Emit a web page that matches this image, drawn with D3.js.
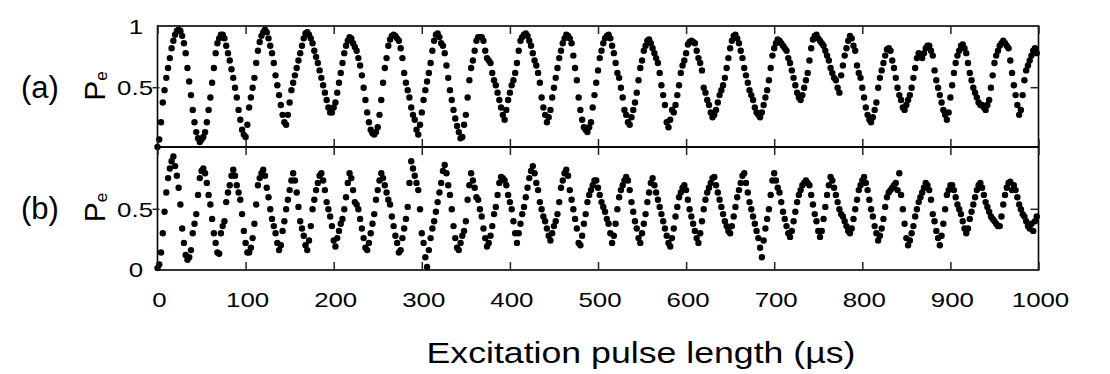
<!DOCTYPE html>
<html>
<head>
<meta charset="utf-8">
<script src="https://cdn.jsdelivr.net/npm/d3@7"></script>
<style>
    body { margin: 0; background: #fff; }
    svg text { font-family: "Liberation Sans", Arial, sans-serif; fill: #000; }
</style>
</head>
<body>
<div id="plot-container"></div>
<script>
// pulse length step between samples (µs)
const stepUs = 2;

// excited-state population, in percent, one value per 2 µs
const peA = [
    2, 8, 22, 38, 48, 58, 66, 74, 82, 88,
    93, 96, 97, 96, 92, 86, 78, 66, 55, 44,
    32, 22, 14, 9, 6, 8, 10, 14, 22, 32,
    42, 54, 66, 78, 86, 90, 93, 93, 90, 84,
    78, 72, 65, 58, 50, 42, 32, 24, 16, 12,
    10, 20, 34, 42, 50, 58, 70, 80, 87, 92,
    95, 97, 95, 90, 84, 78, 70, 60, 52, 44,
    36, 28, 22, 20, 28, 38, 48, 54, 60, 66,
    72, 78, 84, 90, 94, 95, 93, 90, 86, 80,
    75, 70, 64, 58, 52, 46, 40, 34, 30, 30,
    34, 38, 46, 54, 62, 70, 78, 84, 88, 91,
    90, 86, 83, 80, 74, 68, 60, 50, 40, 30,
    22, 16, 13, 12, 14, 18, 28, 40, 54, 66,
    74, 84, 89, 92, 93, 92, 90, 88, 82, 74,
    62, 54, 48, 42, 34, 28, 24, 16, 12, 20,
    30, 40, 48, 55, 62, 70, 80, 88, 93, 94,
    91, 86, 84, 78, 68, 58, 48, 40, 32, 25,
    19, 14, 9, 10, 20, 28, 42, 56, 66, 72,
    80, 88, 91, 91, 91, 88, 80, 74, 72, 70,
    62, 56, 52, 46, 40, 34, 28, 24, 32, 40,
    46, 52, 56, 62, 70, 80, 88, 91, 93, 94,
    92, 88, 84, 78, 72, 68, 62, 54, 42, 34,
    28, 22, 26, 32, 42, 50, 58, 66, 74, 80,
    86, 90, 93, 92, 90, 86, 76, 66, 56, 42,
    32, 24, 18, 16, 14, 18, 22, 34, 44, 54,
    64, 74, 80, 86, 90, 92, 93, 90, 84, 78,
    70, 62, 58, 50, 42, 32, 28, 22, 20, 26,
    32, 38, 46, 56, 66, 72, 80, 84, 88, 89,
    86, 82, 78, 74, 70, 62, 52, 44, 36, 22,
    18, 24, 32, 30, 36, 44, 52, 62, 68, 72,
    78, 85, 87, 88, 87, 86, 80, 74, 70, 64,
    50, 46, 40, 36, 30, 26, 28, 32, 38, 44,
    48, 52, 58, 66, 74, 82, 88, 92, 93, 90,
    86, 80, 74, 66, 60, 54, 48, 44, 40, 34,
    30, 28, 26, 30, 36, 42, 48, 56, 66, 76,
    82, 86, 89, 88, 86, 84, 82, 80, 74, 70,
    64, 58, 52, 46, 42, 40, 44, 50, 56, 62,
    72, 82, 89, 92, 93, 90, 88, 86, 84, 80,
    76, 72, 66, 62, 58, 56, 50, 46, 60, 68,
    76, 82, 88, 92, 90, 84, 80, 68, 62, 58,
    50, 42, 34, 28, 24, 22, 26, 32, 38, 50,
    58, 64, 70, 76, 81, 82, 80, 72, 66, 58,
    50, 44, 40, 34, 32, 36, 40, 44, 50, 58,
    66, 74, 78, 76, 74, 78, 82, 84, 84, 80,
    76, 64, 56, 50, 44, 38, 32, 28, 24, 30,
    42, 52, 62, 70, 76, 80, 84, 85, 82, 78,
    70, 62, 56, 50, 46, 42, 38, 36, 36, 34,
    32, 36, 40, 50, 60, 70, 76, 80, 84, 86,
    88, 86, 84, 82, 72, 62, 52, 44, 36, 28,
    32, 44, 56, 64, 68, 72, 76, 80, 82, 78
];

const peB = [
    1, 4, 14, 30, 48, 64, 76, 84, 90, 94,
    86, 78, 68, 54, 34, 22, 12, 8, 10, 16,
    30, 38, 46, 62, 76, 82, 84, 80, 72, 62,
    54, 42, 30, 22, 14, 13, 30, 36, 40, 56,
    64, 70, 78, 83, 78, 70, 64, 58, 46, 32,
    22, 14, 14, 18, 26, 38, 54, 70, 76, 80,
    83, 78, 68, 60, 50, 42, 36, 30, 22, 16,
    20, 32, 40, 50, 58, 66, 74, 80, 74, 64,
    52, 40, 34, 28, 20, 16, 24, 36, 50, 58,
    66, 72, 78, 80, 74, 66, 56, 50, 44, 36,
    24, 19, 26, 32, 38, 42, 50, 60, 72, 80,
    76, 66, 56, 54, 50, 42, 34, 26, 18, 16,
    22, 30, 38, 46, 58, 66, 74, 80, 76, 70,
    64, 58, 54, 44, 36, 28, 22, 14, 16, 26,
    34, 42, 52, 72, 90, 84, 78, 72, 66, 50,
    30, 22, 10, 2, 16, 26, 34, 40, 48, 56,
    64, 72, 82, 87, 80, 70, 62, 50, 36, 26,
    18, 16, 22, 28, 32, 40, 58, 70, 80, 74,
    68, 60, 58, 50, 44, 34, 26, 19, 22, 28,
    36, 46, 52, 62, 72, 77, 76, 74, 70, 62,
    56, 50, 40, 30, 22, 30, 38, 46, 52, 60,
    68, 76, 82, 86, 80, 72, 66, 56, 50, 44,
    40, 34, 28, 24, 30, 36, 40, 46, 56, 68,
    74, 80, 83, 78, 66, 58, 50, 42, 34, 22,
    20, 28, 38, 46, 56, 62, 66, 70, 74, 74,
    68, 62, 56, 52, 48, 42, 38, 30, 22, 28,
    38, 50, 60, 66, 70, 74, 77, 74, 66, 56,
    48, 40, 34, 26, 22, 30, 38, 46, 56, 64,
    72, 76, 70, 64, 58, 52, 46, 40, 34, 28,
    22, 19, 26, 34, 44, 52, 60, 64, 68, 70,
    66, 58, 50, 44, 38, 32, 26, 22, 30, 40,
    50, 58, 64, 68, 72, 76, 77, 70, 64, 58,
    52, 46, 40, 36, 32, 30, 36, 44, 52, 60,
    66, 72, 78, 80, 72, 64, 56, 50, 44, 38,
    32, 26, 18, 10, 24, 34, 42, 50, 62, 74,
    80, 74, 68, 64, 56, 48, 42, 36, 30, 27,
    32, 40, 48, 56, 62, 66, 70, 72, 74, 72,
    70, 62, 54, 46, 40, 32, 27, 32, 42, 52,
    62, 70, 77, 74, 68, 62, 56, 50, 46, 44,
    40, 36, 32, 30, 34, 42, 50, 58, 66, 70,
    74, 77, 72, 66, 58, 50, 44, 36, 30, 24,
    28, 34, 42, 52, 60, 64, 66, 68, 70, 72,
    66, 80, 62, 50, 38, 26, 20, 24, 30, 36,
    44, 50, 56, 60, 64, 68, 72, 70, 66, 58,
    46, 40, 32, 26, 20, 28, 38, 50, 62, 66,
    70, 70, 66, 60, 54, 50, 46, 40, 34, 30,
    34, 42, 48, 54, 60, 66, 70, 72, 68, 62,
    56, 52, 48, 44, 42, 40, 38, 36, 36, 44,
    54, 62, 68, 72, 73, 66, 70, 66, 60, 54,
    50, 46, 44, 40, 36, 34, 38, 32, 40, 44
];

const xTicks = [0, 100, 200, 300, 400, 500, 600, 700, 800, 900, 1000];
const yTicksA = [0.5, 1];
const yTicksB = [0, 0.5];
const xTitle = "Excitation pulse length (\u00b5s)";

const width = 1110;
const height = 374;
const stretch = 1.23;   // the printed text is a bit wide

const svg = d3.select("#plot-container")
    .append("svg")
    .attr("width", width)
    .attr("height", height);

const x = d3.scaleLinear().domain([0, 1000]).range([157.5, 1038.5]);

const panels = [
    { name: "(a)", data: peA, yTicks: yTicksA, top: 26, bottom: 147,
      y: d3.scaleLinear().domain([0, 1]).range([149.4, 26]) },
    { name: "(b)", data: peB, yTicks: yTicksB, top: 147, bottom: 270,
      y: d3.scaleLinear().domain([0, 1]).range([269.3, 149.3]) }
];

const wideText = (sel, tx, ty) => sel.attr("transform", `translate(${tx},${ty}) scale(${stretch},1)`);

panels.forEach((p, k) => {
    const g = svg.append("g");

    // points
    g.selectAll("circle")
        .data(p.data)
        .enter()
        .append("circle")
        .attr("cx", (d, i) => x(i * stepUs))
        .attr("cy", d => p.y(d / 100))
        .attr("r", 3.2)
        .attr("fill", "#000");

    // frame
    g.append("rect")
        .attr("x", x(0))
        .attr("y", p.top)
        .attr("width", x(1000) - x(0))
        .attr("height", p.bottom - p.top)
        .attr("fill", "none")
        .attr("stroke", "#000")
        .attr("stroke-width", 1.6);

    // inward x ticks, top and bottom
    const top = g.append("g")
        .attr("transform", "translate(0," + p.top + ")")
        .call(d3.axisTop(x).tickValues(xTicks).tickSize(-8).tickFormat(""));
    const bot = g.append("g")
        .attr("transform", "translate(0," + p.bottom + ")")
        .call(d3.axisBottom(x).tickValues(xTicks).tickSize(-8).tickFormat(""));
    [top, bot].forEach(a => {
        a.select(".domain").remove();
        a.selectAll("line").attr("stroke", "#222").attr("stroke-width", 1.5);
    });

    // y ticks: short outward on the left, inward on the right
    g.selectAll("line.yl")
        .data(p.yTicks.filter(v => v === 0.5))
        .enter()
        .append("line")
        .attr("x1", x(0) - 5).attr("x2", x(0) + 2)
        .attr("y1", d => p.y(d)).attr("y2", d => p.y(d))
        .attr("stroke", "#222").attr("stroke-width", 1.5);
    g.selectAll("line.yr")
        .data(p.yTicks.filter(v => v === 0.5))
        .enter()
        .append("line")
        .attr("x1", x(1000) - 8).attr("x2", x(1000))
        .attr("y1", d => p.y(d)).attr("y2", d => p.y(d))
        .attr("stroke", "#222").attr("stroke-width", 1.5);

    // y tick labels
    p.yTicks.forEach(v => {
        const lx = v === 0.5 ? 153 : 143;
        g.append("text")
            .attr("text-anchor", "end")
            .attr("font-size", 21)
            .call(wideText, lx, p.y(v) + 7.5)
            .text(v === 0.5 ? "0.5" : String(v));
    });

    // panel tag and rotated P_e
    const cy = p.y(0.5);
    g.append("text")
        .attr("x", 21)
        .attr("y", cy + 10)
        .attr("font-size", 31)
        .text(p.name);

    const pe = g.append("text")
        .attr("transform", `translate(105,${cy + 13}) rotate(-90)`)
        .attr("font-size", 30);
    pe.append("tspan").text("P");
    pe.append("tspan").attr("font-size", 17).attr("dy", 2).text("e");
});

// x tick labels under panel (b)
svg.append("g")
    .selectAll("text")
    .data(xTicks)
    .enter()
    .append("text")
    .attr("text-anchor", "middle")
    .attr("font-size", 21)
    .each(function(d) { d3.select(this).call(wideText, x(d) + 2, 307); })
    .text(d => d);

svg.append("text")
    .attr("text-anchor", "middle")
    .attr("font-size", 29)
    .call(wideText, 641, 363)
    .text(xTitle);
</script>
</body>
</html>
